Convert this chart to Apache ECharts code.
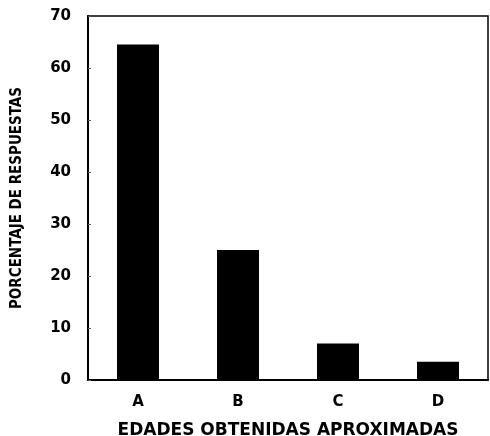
<!DOCTYPE html>
<html>
<head>
<meta charset="utf-8">
<script src="https://cdn.jsdelivr.net/npm/echarts@6/dist/echarts.min.js"></script>
<style>
  html, body { margin: 0; padding: 0; background: #fff; }
  #main { width: 490px; height: 436px; }
</style>
</head>
<body>
<div id="main"></div>
<script>
// categorias y porcentajes
var categorias = ["A", "B", "C", "D"];
var porcentajes = [64.5, 25, 7, 3.5];
var yTicks = { min: 0, max: 70, interval: 10 };

var chart = echarts.init(document.getElementById("main"), null, { renderer: "canvas" });

var option = {
  animation: false,
  backgroundColor: "#fff",
  grid: {
    left: 88,
    right: 2,
    top: 16,
    bottom: 56,
    outerBoundsMode: "none",
    containLabel: false,
    show: true,
    borderColor: "#000",
    borderWidth: 1.5,
  },
  xAxis: {
    type: "category",
    data: categorias,
    axisLine: { show: true, lineStyle: { color: "#000", width: 2 } },
    axisTick: { show: false },
    axisLabel: {
      color: "#000",
      fontFamily: "DejaVu Sans",
      fontWeight: "bold",
      fontSize: 15,
      margin: 15,
    },
    name: "EDADES OBTENIDAS APROXIMADAS",
    nameLocation: "middle",
    nameGap: 42,
    nameTextStyle: {
      color: "#000",
      fontFamily: "DejaVu Sans",
      fontWeight: "bold",
      fontSize: 17,
    },
  },
  yAxis: {
    type: "value",
    min: yTicks.min,
    max: yTicks.max,
    interval: yTicks.interval,
    splitLine: { show: false },
    axisLine: { show: true, lineStyle: { color: "#000", width: 2 } },
    axisTick: { show: true, inside: true, length: 3, lineStyle: { color: "#555" } },
    axisLabel: {
      color: "#000",
      fontFamily: "DejaVu Sans",
      fontWeight: "bold",
      fontSize: 15,
      margin: 17,
    },
    name: "PORCENTAJE DE RESPUESTAS",
    nameLocation: "middle",
    nameGap: 63,
    nameRotate: 90,
    nameTextStyle: {
      color: "#000",
      fontFamily: "DejaVu Sans Condensed",
      fontWeight: "bold",
      fontSize: 15,
    },
  },
  series: [
    {
      type: "bar",
      data: porcentajes,
      barWidth: 42,
      itemStyle: { color: "#000" },
    },
  ],
};

chart.setOption(option);
</script>
</body>
</html>
